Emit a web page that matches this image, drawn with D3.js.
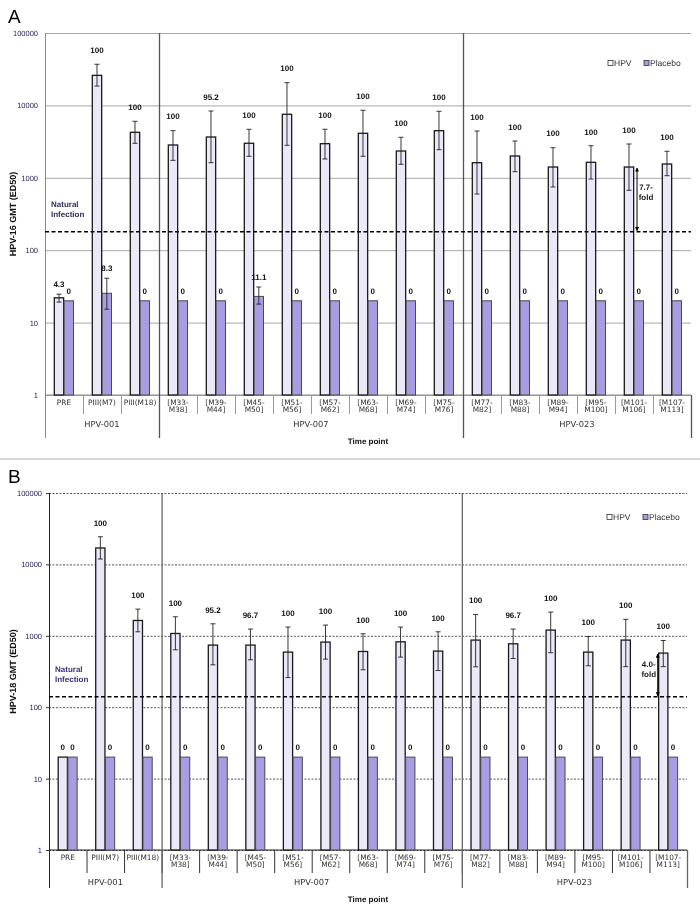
<!DOCTYPE html>
<html>
<head>
<meta charset="utf-8">
<script src="https://cdn.jsdelivr.net/npm/d3@7"></script>
<style>
html,body{margin:0;padding:0;background:#fff;}
svg{display:block;font-family:"Liberation Sans",Arial,sans-serif;will-change:transform;transform:translateZ(0);}
svg text{-webkit-font-smoothing:antialiased;text-rendering:geometricPrecision;}
</style>
</head>
<body>
<svg id="chart" width="700" height="913"></svg>
<script>
// ---------- DATA ----------
const categories = ["PRE","PIII(M7)","PIII(M18)","[M33-M38]","[M39-M44]","[M45-M50]","[M51-M56]","[M57-M62]",
  "[M63-M68]","[M69-M74]","[M75-M76]","[M77-M82]","[M83-M88]","[M89-M94]","[M95-M100]","[M101-M106]","[M107-M113]"];
const groupNames = ["HPV-001","HPV-007","HPV-023"];
const groupSizes = [3, 8, 6];
const seriesNames = ["HPV","Placebo"];
const yTicks = [1,10,100,1000,10000,100000];

// Panel A: HPV-16
const hpv16 =    [22, 26000, 4250, 2840, 3660, 3000, 7540, 2960, 4120, 2345, 4475, 1617, 2000, 1409, 1637, 1409, 1551];
const hpv16Lo =  [19.2, 18500, 2995, 1742, 1617, 1982, 2810, 1819, 1982, 1537, 2444, 597, 1214, 746, 962, 672, 1069];
const hpv16Hi =  [24.7, 37000, 6030, 4480, 8370, 4677, 20600, 4677, 8560, 3625, 8290, 4430, 3222, 2605, 2775, 2930, 2322];
const placebo16 =   [20, 25.4, 20, 20, 20, 23, 20, 20, 20, 20, 20, 20, 20, 20, 20, 20, 20];
const placebo16Lo = [null, 15.3, null, null, null, 18, null, null, null, null, null, null, null, null, null, null, null];
const placebo16Hi = [null, 41, null, null, null, 31, null, null, null, null, null, null, null, null, null, null, null];
const hpv16Pct =     ["4.3","100","100","100","95.2","100","100","100","100","100","100","100","100","100","100","100","100"];
const placebo16Pct = ["0","8.3","0","0","0","11.1","0","0","0","0","0","0","0","0","0","0","0"];
const natural16 = 180;
const fold16 = "7.7-fold";
const fold16Index = 15;

// Panel B: HPV-18
const hpv18 =    [20, 16980, 1640, 1078, 741, 741, 591, 817, 603, 824, 611, 871, 773, 1203, 591, 871, 573];
const hpv18Lo =  [null, 11900, 1138, 637, 392, 461, 260, 471, 334, 503, 326, 368, 480, 580, 380, 370, 370];
const hpv18Hi =  [null, 24400, 2366, 1848, 1473, 1242, 1325, 1413, 1067, 1325, 1138, 1990, 1242, 2148, 977, 1700, 859];
const placebo18 =   [20, 20, 20, 20, 20, 20, 20, 20, 20, 20, 20, 20, 20, 20, 20, 20, 20];
const placebo18Lo = [null, null, null, null, null, null, null, null, null, null, null, null, null, null, null, null, null];
const placebo18Hi = [null, null, null, null, null, null, null, null, null, null, null, null, null, null, null, null, null];
const hpv18Pct =     ["0","100","100","100","95.2","96.7","100","100","100","100","100","100","96.7","100","100","100","100"];
const placebo18Pct = ["0","0","0","0","0","0","0","0","0","0","0","0","0","0","0","0","0"];
const natural18 = 140;
const fold18 = "4.0-fold";
const fold18Index = 16;

// ---------- DRAW ----------
const svg = d3.select("#chart");
const colHPV = "#ebe8f8", colPla = "#a89ce2";
const wideFont = "'DejaVu Sans',Verdana,sans-serif";

svg.append("defs").html(
  '<marker id="ah" viewBox="0 0 10 10" refX="9" refY="5" markerWidth="4" markerHeight="4" orient="auto-start-reverse">' +
  '<path d="M0,0 L10,5 L0,10 z" fill="#000"/></marker>');

svg.append("rect").attr("width",700).attr("height",913).attr("fill","#fff");

svg.append("line").attr("x1",0).attr("x2",700).attr("y1",459).attr("y2",459)
  .attr("stroke","#b0b0b0").attr("stroke-width",1);

function drawPanel(o) {
  const g = svg.append("g");
  const x = d3.scaleBand().domain(categories).range([o.left, o.right]).padding(0);
  const bw = x.bandwidth();
  const xs = d3.scaleBand().domain(seriesNames).range([bw*0.245, bw*0.75]).paddingInner(0.05);
  const y = d3.scaleLog().domain([1,100000]).range([o.bottom, o.top]);

  g.append("text").attr("x", 8).attr("y", o.letterY).text(o.letter)
    .attr("font-size", 19).attr("fill","#000");

  const grid = g.append("g").attr("transform",`translate(${o.left},0)`)
    .call(d3.axisLeft(y).tickValues(yTicks).tickSize(-(o.right-o.left)).tickFormat(""));
  grid.select(".domain").remove();
  grid.selectAll(".tick line").attr("stroke", o.gridColor).attr("stroke-width",1)
    .attr("stroke-dasharray", o.gridDash);

  const ya = g.append("g").attr("transform",`translate(${o.left},0)`)
    .call(d3.axisLeft(y).tickValues(yTicks).tickSize(o.tickLen).tickPadding(o.tickPad).tickFormat(d3.format("d")));
  ya.select(".domain").remove();
  ya.selectAll(".tick line").attr("stroke","#333");
  ya.selectAll(".tick text").attr("font-size",7.5).attr("fill","#262650")
    .attr("font-family","'Liberation Sans',Arial,sans-serif");

  g.append("text").attr("transform",`translate(${o.titleX},${(o.top+o.bottom)/2}) rotate(-90)`)
    .attr("text-anchor","middle").attr("font-size",9).attr("font-weight","bold").attr("fill","#111")
    .text(o.yTitle);

  g.append("line").attr("x1",o.left).attr("x2",o.right).attr("y1",o.bottom).attr("y2",o.bottom)
    .attr("stroke",o.axisColor).attr("stroke-width",1);

  categories.forEach((c,i) => {
    if (i===0) return;
    g.append("line").attr("x1",x(c)+0.5).attr("x2",x(c)+0.5).attr("y1",o.bottom).attr("y2",o.catSepBottom)
      .attr("stroke",o.sepColor).attr("stroke-width",1);
  });
  let acc = 0;
  const bounds = [0];
  groupSizes.forEach(n => { acc += n; bounds.push(acc); });
  bounds.forEach((b,j) => {
    const xx = b < categories.length ? x(categories[b]) : o.right;
    const y1 = (j===bounds.length-1) ? o.bottom : o.top;
    g.append("line").attr("x1",xx+0.5).attr("x2",xx+0.5).attr("y1",y1).attr("y2",o.groupSepBottom)
      .attr("stroke", j===0 ? o.leftAxisColor : o.groupSepColor).attr("stroke-width", j===0 ? 1 : 1.3);
  });
  groupNames.forEach((nm,j) => {
    const x0 = x(categories[bounds[j]]);
    const x1 = bounds[j+1] < categories.length ? x(categories[bounds[j+1]]) : o.right;
    g.append("text").attr("x",(x0+x1)/2).attr("y",o.groupLabelY).attr("text-anchor","middle")
      .attr("font-family",wideFont).attr("font-size",8.3).attr("fill","#333").text(nm);
  });
  categories.forEach(c => {
    const parts = c.indexOf("-")>=0 ? [c.slice(0,c.indexOf("-")+1), c.slice(c.indexOf("-")+1)] : [c];
    const t = g.append("text").attr("text-anchor","middle").attr("font-family",wideFont)
      .attr("font-size",7.4).attr("fill","#333");
    parts.forEach((p,k) => {
      t.append("tspan").attr("x", x(c)+bw/2).attr("y", o.catLabelY + k*7.4).text(p);
    });
  });
  g.append("text").attr("x",(o.left+o.right)/2).attr("y",o.timeY).attr("text-anchor","middle")
    .attr("font-size",8).attr("font-weight","bold").attr("fill","#111").text("Time point");

  const series = [
    {name:"HPV", v:o.hpv, lo:o.hpvLo, hi:o.hpvHi, lab:o.hpvPct, fill:colHPV, stroke:"#1a1a1a", sw:1.3},
    {name:"Placebo", v:o.pla, lo:o.plaLo, hi:o.plaHi, lab:o.plaPct, fill:colPla, stroke:"#4a4a4a", sw:1}
  ];
  series.forEach(s => {
    const gs = g.append("g");
    gs.selectAll("rect").data(categories).join("rect")
      .attr("x",(c)=>x(c)+xs(s.name)).attr("width",xs.bandwidth())
      .attr("y",(c,i)=>y(s.v[i])).attr("height",(c,i)=>o.bottom-y(s.v[i]))
      .attr("fill",s.fill).attr("stroke",s.stroke).attr("stroke-width",s.sw);
    categories.forEach((c,i) => {
      const cx = x(c)+xs(s.name)+xs.bandwidth()/2;
      if (s.lo[i]!=null && s.hi[i]!=null) {
        const eg = gs.append("g").attr("stroke","#222").attr("stroke-width",0.9);
        eg.append("line").attr("x1",cx).attr("x2",cx).attr("y1",y(s.hi[i])).attr("y2",y(s.lo[i]));
        eg.append("line").attr("x1",cx-2.5).attr("x2",cx+2.5).attr("y1",y(s.hi[i])).attr("y2",y(s.hi[i]));
        eg.append("line").attr("x1",cx-2.5).attr("x2",cx+2.5).attr("y1",y(s.lo[i])).attr("y2",y(s.lo[i]));
      }
      const topV = s.hi[i]!=null ? s.hi[i] : s.v[i];
      const off = topV >= 100 ? 14 : 10;
      gs.append("text").attr("x",cx).attr("y",y(topV)-off).attr("dy","0.35em")
        .attr("text-anchor","middle").attr("font-size",8).attr("font-weight","bold").attr("fill","#111")
        .text(s.lab[i]);
    });
  });

  g.append("line").attr("x1",o.left).attr("x2",o.right).attr("y1",y(o.natural)).attr("y2",y(o.natural))
    .attr("stroke","#000").attr("stroke-width",1.6).attr("stroke-dasharray","4,2.5");
  g.append("text").attr("font-size",8).attr("font-weight","bold").attr("fill",o.natColor)
    .selectAll("tspan").data(["Natural","Infection"]).join("tspan")
    .attr("x",o.left+6).attr("y",(d,k)=>y(o.natural)-24.5+k*10).text(d=>d);

  const fc = categories[o.foldIndex];
  const ax = x(fc) + bw*o.foldArrowPos;
  g.append("line").attr("x1",ax).attr("x2",ax).attr("y1",y(o.hpv[o.foldIndex])+1).attr("y2",y(o.natural)-1)
    .attr("stroke","#000").attr("stroke-width",1)
    .attr("marker-start","url(#ah)").attr("marker-end","url(#ah)");
  const fp = o.fold.split("-");
  g.append("text").attr("font-size",8).attr("font-weight","bold").attr("fill","#222")
    .attr("text-anchor","middle")
    .selectAll("tspan").data([fp[0]+"-", fp[1]]).join("tspan")
    .attr("x",ax+o.foldTextDx).attr("y",(d,k)=>o.foldTextY + k*10).text(d=>d);

  const lg = g.append("g").attr("transform",`translate(${o.legendX},${o.legendY})`);
  lg.append("rect").attr("x",0).attr("y",-5.5).attr("width",5).attr("height",5)
    .attr("fill","#fff").attr("stroke","#333").attr("stroke-width",0.8);
  lg.append("text").attr("x",6).attr("y",0).attr("font-size",8.5).attr("fill","#333").text("HPV");
  lg.append("rect").attr("x",36).attr("y",-5.5).attr("width",5).attr("height",5)
    .attr("fill",colPla).attr("stroke","#333").attr("stroke-width",0.8);
  lg.append("text").attr("x",42).attr("y",0).attr("font-size",8.5).attr("fill","#333").text("Placebo");
}

drawPanel({
  letter:"A", letterY:23, top:33, bottom:395, left:45, right:691,
  catSepBottom:414, groupSepBottom:438, catLabelY:405, groupLabelY:427, timeY:444,
  titleX:16, yTitle:"HPV-16 GMT (ED50)",
  gridColor:"#a3aba3", gridDash:null, tickLen:0, tickPad:7,
  axisColor:"#8a8a8a", sepColor:"#9a9a9a", groupSepColor:"#555", leftAxisColor:"#8a8a8a",
  hpv:hpv16, hpvLo:hpv16Lo, hpvHi:hpv16Hi, pla:placebo16, plaLo:placebo16Lo, plaHi:placebo16Hi,
  hpvPct:hpv16Pct, plaPct:placebo16Pct, natural:natural16, natColor:"#2e2e55",
  fold:fold16, foldIndex:fold16Index, foldArrowPos:0.58, foldTextDx:9, foldTextY:190,
  legendX:608, legendY:66
});

drawPanel({
  letter:"B", letterY:483, top:493, bottom:850, left:49, right:687,
  catSepBottom:873, groupSepBottom:888, catLabelY:860, groupLabelY:885, timeY:902,
  titleX:16, yTitle:"HPV-18 GMT (ED50)",
  gridColor:"#555", gridDash:"2,1.5", tickLen:3, tickPad:4,
  axisColor:"#222", sepColor:"#333", groupSepColor:"#666", leftAxisColor:"#222",
  hpv:hpv18, hpvLo:hpv18Lo, hpvHi:hpv18Hi, pla:placebo18, plaLo:placebo18Lo, plaHi:placebo18Hi,
  hpvPct:hpv18Pct, plaPct:placebo18Pct, natural:natural18, natColor:"#3d2f72",
  fold:fold18, foldIndex:fold18Index, foldArrowPos:0.22, foldTextDx:-9, foldTextY:667,
  legendX:607, legendY:520
});
</script>
</body>
</html>
